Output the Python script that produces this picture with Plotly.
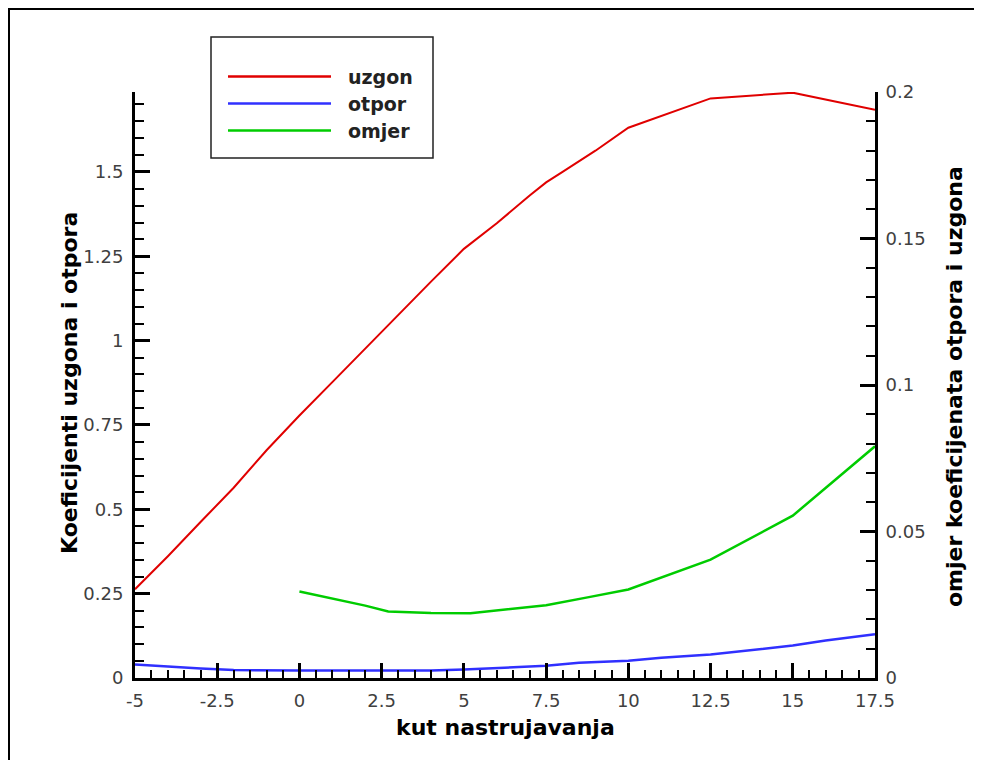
import plotly.graph_objects as go

# ---- data ----
uzgon_x = [-5, -4, -3, -2, -1, 0, 1, 2, 3, 4, 5, 6, 7, 7.5, 8, 9, 10, 12.5, 15, 17.5]
uzgon_y = [0.263, 0.361, 0.463, 0.564, 0.675, 0.778, 0.877, 0.977, 1.077, 1.175, 1.272,
           1.348, 1.430, 1.469, 1.500, 1.563, 1.631, 1.718, 1.735, 1.684]

otpor_x = [-5, -4, -3, -2, -1, 0, 2.5, 4, 5, 6, 7.5, 8.5, 10, 11, 12.5, 15, 16, 17.5]
otpor_y = [0.040, 0.0335, 0.0285, 0.0235, 0.022, 0.022, 0.022, 0.022, 0.025, 0.029,
           0.036, 0.045, 0.051, 0.060, 0.070, 0.096, 0.111, 0.130]

omjer_x = [0, 1, 2, 2.7, 4, 5.2, 6, 7.5, 8.8, 10, 12.5, 15, 17.5]
omjer_y = [0.0295, 0.0272, 0.0247, 0.0227, 0.0222, 0.0221, 0.0231, 0.0248, 0.0276,
           0.0302, 0.0404, 0.0554, 0.0791]

series_names = ["uzgon", "otpor", "omjer"]
series_colors = ["#e00000", "#3030ff", "#00cc00"]

x_tick_vals = [-5, -2.5, 0, 2.5, 5, 7.5, 10, 12.5, 15, 17.5]
x_tick_text = ["-5", "-2.5", "0", "2.5", "5", "7.5", "10", "12.5", "15", "17.5"]
y_tick_vals = [0, 0.25, 0.5, 0.75, 1, 1.25, 1.5]
y_tick_text = ["0", "0.25", "0.5", "0.75", "1", "1.25", "1.5"]
y2_tick_vals = [0, 0.05, 0.1, 0.15, 0.2]
y2_tick_text = ["0", "0.05", "0.1", "0.15", "0.2"]

x_title = "kut nastrujavanja"
y_title = "Koeficijenti uzgona i otpora"
y2_title = "omjer koeficijenata otpora i uzgona"

# ---- layout geometry (page pixels; the page body adds an 8px offset) ----
OFF = 8
W, H = 982 - OFF, 760 - OFF
L, R, T, B = 135 - OFF, 875 - OFF, 92 - OFF, 678 - OFF
pw, ph = R - L, B - T


def px(x):
    return (x - OFF - L) / pw


def py(y):
    return (B - (y - OFF)) / ph


FONT = "DejaVu Sans, Liberation Sans, sans-serif"
tick_font = dict(family=FONT, size=18, color="#404040")
title_font = dict(family=FONT, size=22, color="#000000", weight="bold")

fig = go.Figure()
fig.add_trace(go.Scatter(x=uzgon_x, y=uzgon_y, mode="lines", name=series_names[0],
                         line=dict(color=series_colors[0], width=2), yaxis="y"))
fig.add_trace(go.Scatter(x=otpor_x, y=otpor_y, mode="lines", name=series_names[1],
                         line=dict(color=series_colors[1], width=2.5), yaxis="y"))
fig.add_trace(go.Scatter(x=omjer_x, y=omjer_y, mode="lines", name=series_names[2],
                         line=dict(color=series_colors[2], width=2.5), yaxis="y2"))

axis_common = dict(showgrid=False, zeroline=False, showline=True, linecolor="black",
                   linewidth=3, ticks="inside", ticklen=15, tickwidth=3, tickcolor="black",
                   tickfont=tick_font, tickmode="array")

fig.update_layout(
    width=W, height=H,
    margin=dict(l=L, r=W - R, t=T, b=H - B, autoexpand=False),
    paper_bgcolor="white", plot_bgcolor="white",
    showlegend=False,
    xaxis=dict(range=[-5, 17.5], tickvals=x_tick_vals, ticktext=x_tick_text,
               ticklabelstandoff=4,
               minor=dict(dtick=0.5, tick0=-5, ticks="inside", ticklen=8, tickwidth=1.5,
                          tickcolor="black", showgrid=False),
               **axis_common),
    yaxis=dict(range=[0, 1.737], tickvals=y_tick_vals, ticktext=y_tick_text,
               ticklabelstandoff=5,
               minor=dict(dtick=0.05, tick0=0, ticks="inside", ticklen=9, tickwidth=1.5,
                          tickcolor="black", showgrid=False),
               **axis_common),
    yaxis2=dict(range=[0, 0.2], overlaying="y", side="right", anchor="x",
                tickvals=y2_tick_vals, ticktext=y2_tick_text, ticklabelstandoff=4,
                minor=dict(dtick=0.01, tick0=0, ticks="inside", ticklen=9, tickwidth=1.5,
                           tickcolor="black", showgrid=False),
                **axis_common),
)

# axis titles
fig.add_annotation(text=x_title, x=px(505), y=py(727), xref="paper", yref="paper",
                   showarrow=False, font=title_font, xanchor="center", yanchor="middle")
fig.add_annotation(text=y_title, x=px(70), y=py(383), xref="paper", yref="paper",
                   showarrow=False, font=title_font, textangle=-90,
                   xanchor="center", yanchor="middle")
fig.add_annotation(text=y2_title, x=px(954), y=py(386), xref="paper", yref="paper",
                   showarrow=False, font=title_font, textangle=-90,
                   xanchor="center", yanchor="middle")

# outer frame
fig.add_shape(type="rect", xref="paper", yref="paper",
              x0=px(9), x1=px(977), y0=py(775), y1=py(9),
              line=dict(color="black", width=2), fillcolor="rgba(0,0,0,0)", layer="below")

# custom legend box
fig.add_shape(type="rect", xref="paper", yref="paper",
              x0=px(211), x1=px(433), y0=py(158), y1=py(37),
              line=dict(color="#222222", width=1.5), fillcolor="white")
legend_rows = [76.5, 103.5, 130.5]
for name, color, ry in zip(series_names, series_colors, legend_rows):
    fig.add_shape(type="line", xref="paper", yref="paper",
                  x0=px(228), x1=px(331), y0=py(ry), y1=py(ry),
                  line=dict(color=color, width=2.5))
    fig.add_annotation(text=name, x=px(346), y=py(ry), xref="paper", yref="paper",
                       showarrow=False, xanchor="left", yanchor="middle",
                       font=dict(family=FONT, size=19, color="#222222", weight="bold"))

fig.write_html("out.html")
